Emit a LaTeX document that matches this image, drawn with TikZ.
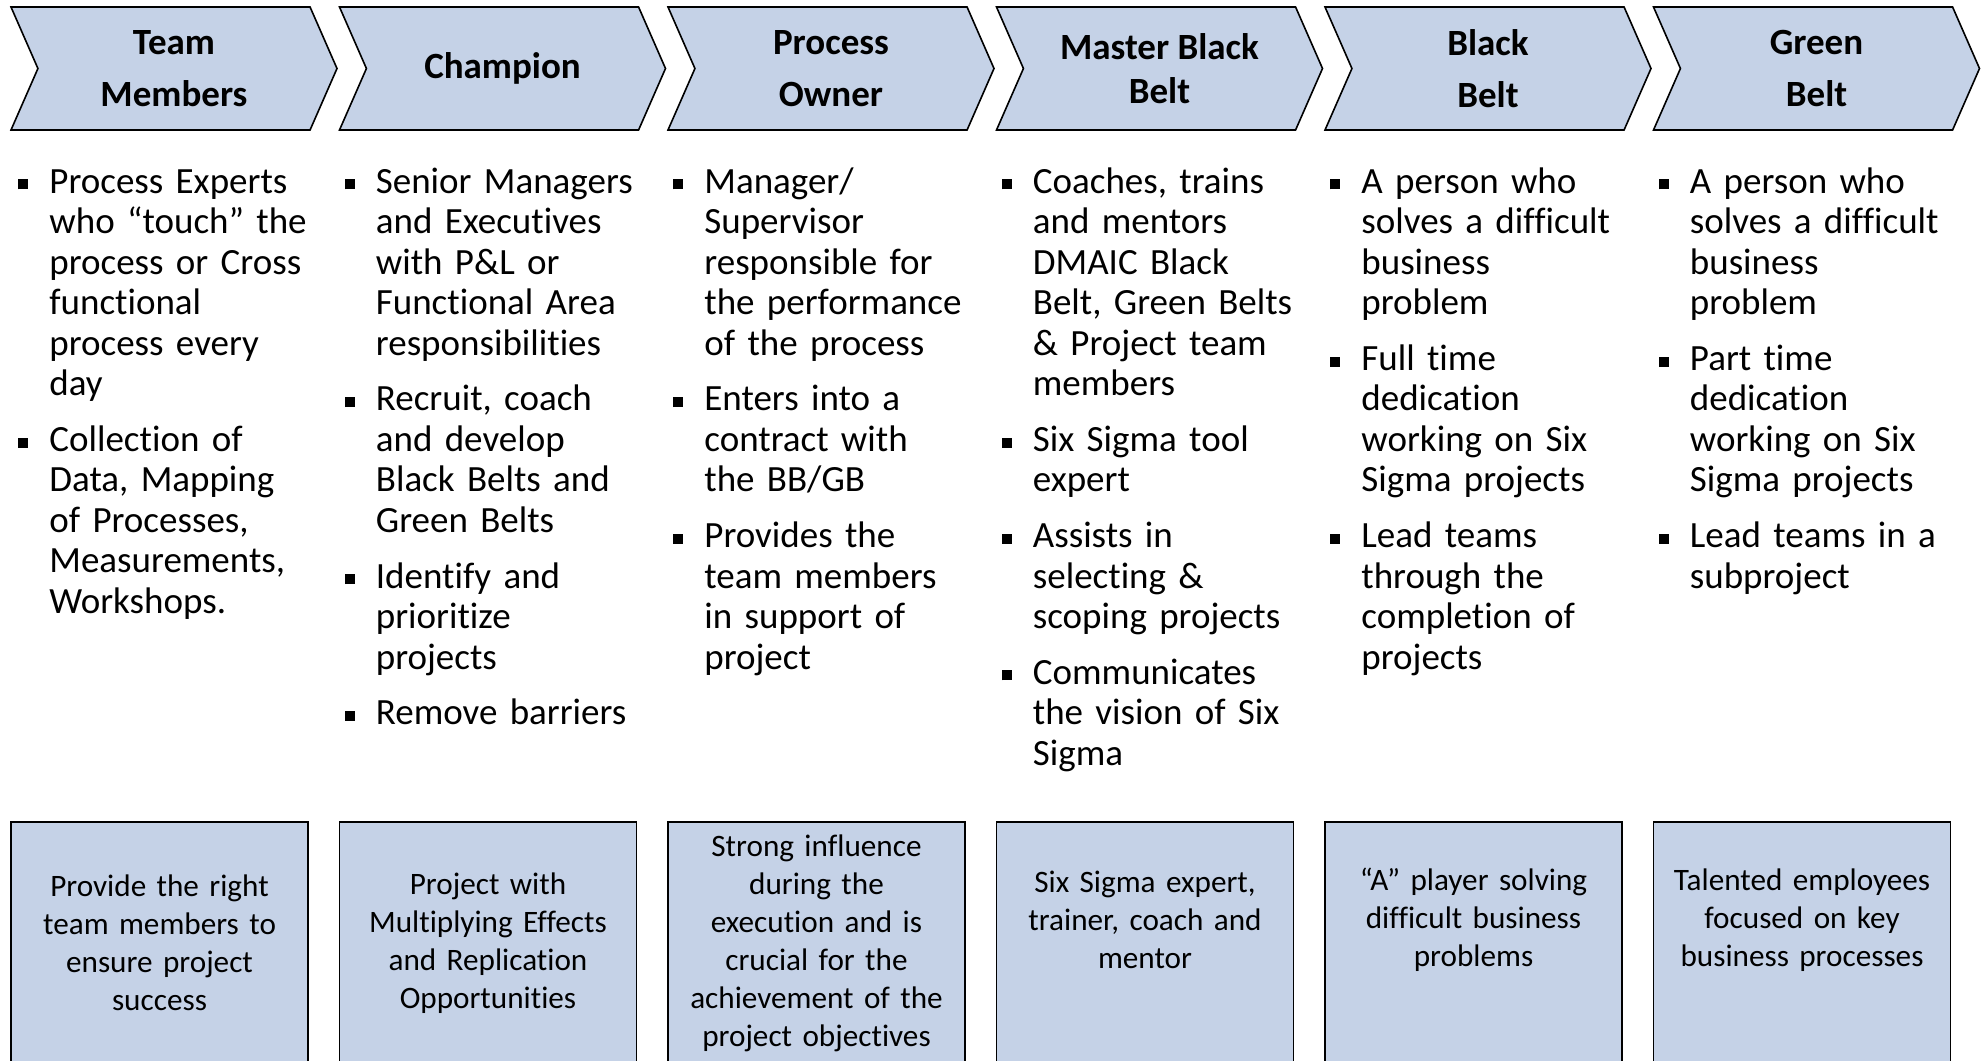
\documentclass[tikz,border=0pt]{standalone}
\usepackage{fontspec}
\setmainfont[Ligatures=NoCommon]{Carlito}
\usetikzlibrary{shapes.symbols}
\definecolor{beltblue}{RGB}{197,210,231}

% square bullet hanging left of the text
\newcommand{\bl}{\par\noindent\llap{\makebox[15.5pt][l]{\rule[1.9pt]{5pt}{5pt}}}}

\begin{document}
\begin{tikzpicture}[
            x = 0.5pt, y = -0.5pt, % one unit = one pixel of the slide
            chev/.style = {signal, signal from = west, signal to = east,
                signal pointer angle = 132.7, draw = black, line width = 0.8pt,
                fill = beltblue, minimum width = 163pt, minimum height = 61.5pt,
                inner sep = 0pt, align = center,
                font = \fontsize{18.5}{26}\selectfont\bfseries},
            lst/.style = {anchor = north west, inner sep = 0pt, text width = 140pt,
                align = left, font = \fontsize{18.5}{20.25}\selectfont},
            outbox/.style = {draw = black, line width = 0.8pt, fill = beltblue,
                minimum width = 148.5pt, minimum height = 124pt, anchor = north,
                inner sep = 0pt},
            boxtxt/.style = {inner sep = 0pt, text width = 148pt, align = center,
                font = \fontsize{15.6}{19}\selectfont}
        ]

        \useasboundingbox (0,0) rectangle (1985,1060);

        % role chevrons
        \node[chev] (TM) at (174,68.5) {Team\\Members};
        \node[chev] (CH) at (502.5,68.5) {Champion};
        \node[chev] (PO) at (831,68.5) {Process\\Owner};
        \node[chev, font = \fontsize{18.5}{22}\selectfont\bfseries] (MBB) at (1159.5,68.5) {Master Black\\Belt};
        \node[chev] (BB) at (1488,68.5) {Black\\Belt};
        \node[chev] (GB) at (1816.5,68.5) {Green\\Belt};

        % duties
        \node[lst] (TMl) at (49,137) {\setlength{\parskip}{7.6pt}%
            \bl\strut Process Experts\newline who “touch” the\newline process or Cross\newline functional\newline process every\newline day
            \bl Collection of\newline Data, Mapping\newline of Processes,\newline Measurements,\newline Workshops.};
        \node[lst] (CHl) at (375.5,137) {\setlength{\parskip}{7.6pt}%
            \bl\strut Senior Managers\newline and Executives\newline with P\&L or\newline Functional Area\newline responsibilities
            \bl Recruit, coach\newline and develop\newline Black Belts and\newline Green Belts
            \bl Identify and\newline prioritize\newline projects
            \bl Remove barriers};
        \node[lst] (POl) at (704,137) {\setlength{\parskip}{7.6pt}%
            \bl\strut Manager/\newline Supervisor\newline responsible for\newline the performance\newline of the process
            \bl Enters into a\newline contract with\newline the BB/GB
            \bl Provides the\newline team members\newline in support of\newline project};
        \node[lst] (MBBl) at (1032.5,137) {\setlength{\parskip}{7.6pt}%
            \bl\strut Coaches, trains\newline and mentors\newline DMAIC Black\newline Belt, Green Belts\newline \& Project team\newline members
            \bl Six Sigma tool\newline expert
            \bl Assists in\newline selecting \&\newline scoping projects
            \bl Communicates\newline the vision of Six\newline Sigma};
        \node[lst] (BBl) at (1361,137) {\setlength{\parskip}{7.6pt}%
            \bl\strut A person who\newline solves a difficult\newline business\newline problem
            \bl Full time\newline dedication\newline working on Six\newline Sigma projects
            \bl Lead teams\newline through the\newline completion of\newline projects};
        \node[lst] (GBl) at (1689.5,137) {\setlength{\parskip}{7.6pt}%
            \bl\strut A person who\newline solves a difficult\newline business\newline problem
            \bl Part time\newline dedication\newline working on Six\newline Sigma projects
            \bl Lead teams in a\newline subproject};

        % outcome boxes
        \node[outbox] (TMb) at (159.5,821) {};
        \node[outbox] (CHb) at (488,821) {};
        \node[outbox] (POb) at (816.5,821) {};
        \node[outbox] (MBBb) at (1145,821) {};
        \node[outbox] (BBb) at (1473.5,821) {};
        \node[outbox] (GBb) at (1802,821) {};

        \node[boxtxt] (TMt) at (159.5,943) {Provide the right\\team members to\\ensure project\\success};
        \node[boxtxt] (CHt) at (488,943) {Project with\\Multiplying Effects\\and Replication\\Opportunities};
        \node[boxtxt] (POt) at (816.5,943) {Strong influence\\during the\\execution and is\\crucial for the\\achievement of the\\project objectives};
        \node[boxtxt] (MBBt) at (1145,920) {Six Sigma expert,\\trainer, coach and\\mentor};
        \node[boxtxt] (BBt) at (1473.5,920) {“A” player solving\\difficult business\\problems};
        \node[boxtxt] (GBt) at (1802,920) {Talented employees\\focused on key\\business processes};

\end{tikzpicture}
\end{document}
